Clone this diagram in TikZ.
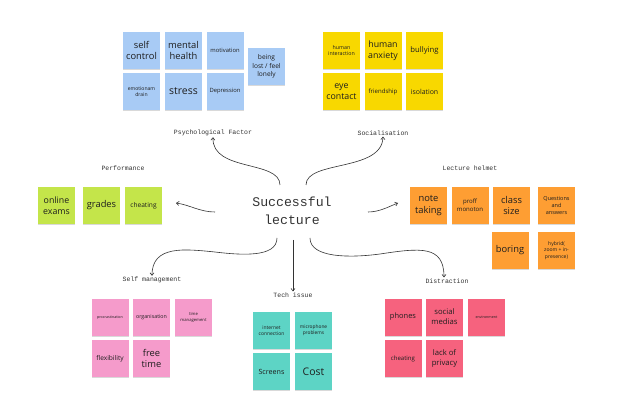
\documentclass[tikz,border=0pt]{standalone}
\usepackage{fontspec}
\setmainfont{Open Sans}
\newfontfamily\monof{Liberation Mono}
\usetikzlibrary{shadows,arrows.meta}
\newcommand\fs[1]{\fontsize{\dimexpr #1pt*11/10\relax}{\dimexpr #1pt*14/10\relax}\selectfont}
\definecolor{cblue}{HTML}{A8CBF5}
\definecolor{cyellow}{HTML}{F8D800}
\definecolor{cgreen}{HTML}{C4E54A}
\definecolor{corange}{HTML}{FE9E33}
\definecolor{cpink}{HTML}{F59BCB}
\definecolor{cteal}{HTML}{5DD4C5}
\definecolor{cred}{HTML}{F6627E}
\definecolor{ctext}{HTML}{1E1E1E}
\definecolor{cline}{HTML}{333333}
\tikzset{
  note/.style={minimum width=37pt, minimum height=37pt, inner sep=1pt, align=center,
    text=ctext, drop shadow={shadow xshift=0pt, shadow yshift=-1.2pt, opacity=0.15, fill=black}},
  lbl/.style={font=\monof\fontsize{6.5}{8}\selectfont, text=cline, inner sep=1pt},
  conn/.style={draw=cline, line width=0.6pt, -{Straight Barb[length=2.5pt,width=4pt]}}
}
\begin{document}
\begin{tikzpicture}[x=1pt,y=-1pt]
\useasboundingbox[fill=white] (0,0) rectangle (622,401);
% Psychological (blue)
\node[note, fill=cblue, font=\fs{8.5}] (b1) at (141.5,50.5) {self\\control};
\node[note, fill=cblue, font=\fs{8.5}] (b2) at (183.5,50.5) {mental\\health};
\node[note, fill=cblue, font=\fs{5.3}] (b3) at (225,50.5) {motivation};
\node[note, fill=cblue, font=\fs{6}] (b4) at (266.5,66.5) {being\\lost / feel\\lonely};
\node[note, fill=cblue, font=\fs{4.6}] (b5) at (141.5,91.5) {emotionam\\drain};
\node[note, fill=cblue, font=\fs{9.5}] (b6) at (183.5,91.5) {stress};
\node[note, fill=cblue, font=\fs{5.3}] (b7) at (225,91.5) {Depression};
% Socialisation (yellow)
\node[note, fill=cyellow, font=\fs{4.8}] (y1) at (341.5,50.5) {human\\interaction};
\node[note, fill=cyellow, font=\fs{8}] (y2) at (383,50.5) {human\\anxiety};
\node[note, fill=cyellow, font=\fs{7}] (y3) at (424.5,50.5) {bullying};
\node[note, fill=cyellow, font=\fs{8}] (y4) at (341.5,91.5) {eye\\contact};
\node[note, fill=cyellow, font=\fs{5.5}] (y5) at (383,91.5) {friendship};
\node[note, fill=cyellow, font=\fs{6.3}] (y6) at (424.5,91.5) {isolation};
% Performance (green)
\node[note, fill=cgreen, font=\fs{8}] (g1) at (56.5,205.5) {online\\exams};
\node[note, fill=cgreen, font=\fs{8.5}] (g2) at (101.5,205.5) {grades};
\node[note, fill=cgreen, font=\fs{6}] (g3) at (143.5,205.5) {cheating};
% Lecture helmet (orange)
\node[note, fill=corange, font=\fs{8.5}] (o1) at (428.5,205.5) {note\\taking};
\node[note, fill=corange, font=\fs{5.5}] (o2) at (470,205.5) {proff\\monoton};
\node[note, fill=corange, font=\fs{8.5}] (o3) at (511.5,205.5) {class\\size};
\node[note, fill=corange, font=\fs{5}] (o4) at (556.5,205.5) {Questions\\and\\answers};
\node[note, fill=corange, font=\fs{8.5}] (o5) at (510,250.5) {boring};
\node[note, fill=corange, font=\fs{4.6}] (o6) at (556.5,250.5) {hybrid(\\zoom + in-\\presence)};
% Self management (pink)
\node[note, fill=cpink, font=\fs{3.3}] (p1) at (110,317.5) {procrastination};
\node[note, fill=cpink, font=\fs{4.8}] (p2) at (151.5,317.5) {organisation};
\node[note, fill=cpink, font=\fs{3.8}] (p3) at (193.5,317.5) {time\\management};
\node[note, fill=cpink, font=\fs{6}] (p4) at (110,358.5) {flexibility};
\node[note, fill=cpink, font=\fs{8.5}] (p5) at (151.5,358.5) {free\\time};
% Tech issue (teal)
\node[note, fill=cteal, font=\fs{4.5}] (t1) at (271.5,330.5) {internet\\connection};
\node[note, fill=cteal, font=\fs{4.4}] (t2) at (313.5,330.5) {microphone\\problems};
\node[note, fill=cteal, font=\fs{6.5}] (t3) at (271.5,371.5) {Screens};
\node[note, fill=cteal, font=\fs{9.5}] (t4) at (313.5,371.5) {Cost};
% Distraction (red)
\node[note, fill=cred, font=\fs{6.8}] (r1) at (403,317) {phones};
\node[note, fill=cred, font=\fs{7}] (r2) at (444.5,317) {social\\medias};
\node[note, fill=cred, font=\fs{3.3}] (r3) at (486.5,317) {environment};
\node[note, fill=cred, font=\fs{5.5}] (r4) at (403,358.5) {cheating};
\node[note, fill=cred, font=\fs{7}] (r5) at (444.5,358.5) {lack of\\privacy};
% labels
\node[lbl] (lpsy) at (213,133) {Psychological Factor};
\node[lbl] (lsoc) at (383,133) {Socialisation};
\node[lbl] (lper) at (123,168) {Performance};
\node[lbl] (llec) at (470,168) {Lecture helmet};
\node[lbl] (lsel) at (152,280) {Self management};
\node[lbl] (ltec) at (293,295) {Tech issue};
\node[lbl] (ldis) at (447,281) {Distraction};
% center
\node[font=\monof\fontsize{13.2}{18}\selectfont, text=cline, align=center, inner sep=0pt] (c) at (292,211) {Successful\\lecture};
\coordinate (s1) at (280,185);
\coordinate (s2) at (306,185);
\coordinate (s3) at (215,212);
\coordinate (s4) at (368,212);
\coordinate (s5) at (277,238);
\coordinate (s6) at (293,240);
\coordinate (s7) at (310,238);
\coordinate (e3) at (176,203);
\coordinate (e4) at (398,203);
\draw[conn] (s1) .. controls (280,160) and (212,172) .. (lpsy.south);
\draw[conn] (s2) .. controls (306,160) and (382,172) .. (lsoc.south);
\draw[conn] (s3) .. controls (200,212) and (190,205) .. (e3);
\draw[conn] (s4) .. controls (380,212) and (390,206) .. (e4);
\draw[conn] (s5) .. controls (277,258) and (240,255) .. (215,252) .. controls (185,249) and (152,245) .. (lsel.north);
\draw[conn] (s6) -- (ltec.north);
\draw[conn] (s7) .. controls (310,258) and (350,258) .. (380,254) .. controls (420,248) and (444,245) .. ([xshift=-3pt]ldis.north);
\end{tikzpicture}
\end{document}
